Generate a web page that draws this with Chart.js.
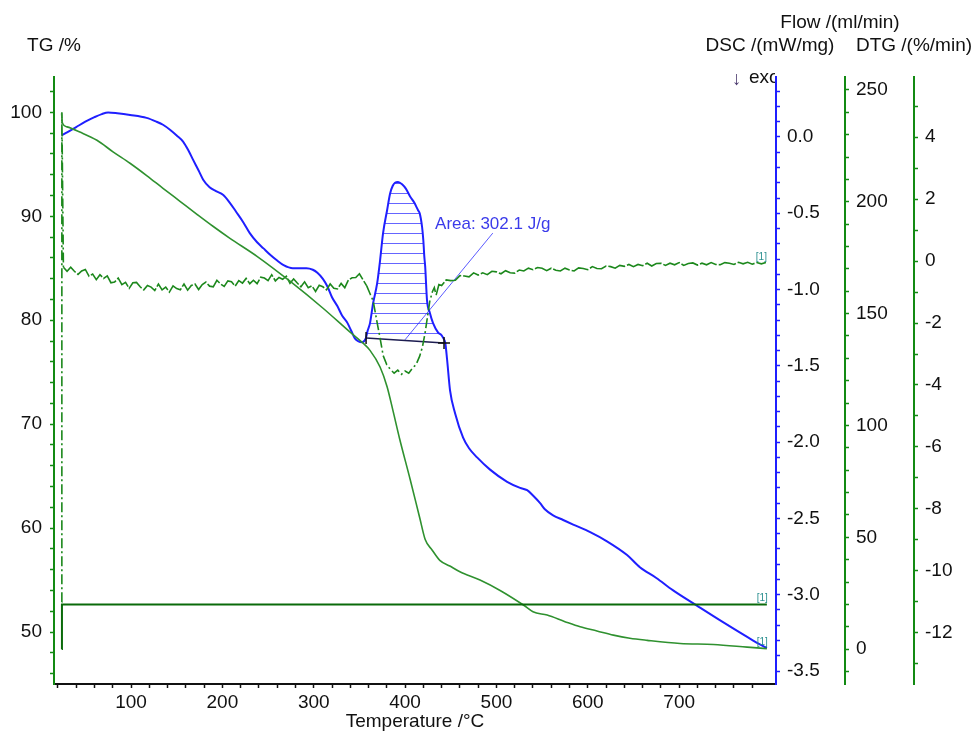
<!DOCTYPE html>
<html>
<head>
<meta charset="utf-8">
<script src="https://cdn.jsdelivr.net/npm/chart.js@4"></script>
<style>
  html, body { margin: 0; padding: 0; background: #fff; }
  #wrap { width: 979px; height: 733px; position: relative; }
</style>
</head>
<body>
<div id="wrap"><canvas id="thermoChart"></canvas></div>
<script>
// TG mass curve (%), temperatures in °C
const tgTemp = [24, 25, 30, 44, 62.7, 80.3, 98.9, 117.5, 135, 153.6, 172.2, 189.7, 208.3, 237.9, 274, 310.2, 339.8,
  354, 361.6, 372.6, 380.3, 387, 394, 405.5, 416, 422, 429.5, 438, 449, 460, 482, 504, 529.5, 540, 555.5,
  575, 591.6, 610, 628, 646, 665, 701, 737.5, 774.5, 796];
const tgValues = [99.9, 98.95, 98.6, 98.1, 97.31, 96.2, 95.1, 93.89, 92.69, 91.44, 90.19, 89.04, 87.88, 86.15, 83.75, 81.15, 78.85,
  77.79, 77.1, 75.5, 73.6, 71.2, 68.6, 64.7, 61.0, 58.9, 57.9, 56.9, 56.35, 55.8, 55.0, 54.0, 52.6, 51.95, 51.63,
  51.0, 50.5, 50.1, 49.7, 49.4, 49.2, 48.9, 48.8, 48.55, 48.4];

// DSC heat flow (mW/mg)
const dscTemp = [24, 30, 40, 50, 60, 68, 75, 85, 99, 117, 128, 135, 143, 150, 157, 163, 168, 174, 179, 186,
  193, 201, 208, 215, 223, 230, 238, 245, 252, 260, 267, 277, 292, 299, 304, 310, 315, 320, 326, 331,
  337, 341, 345, 349, 353, 357, 359, 361.6, 365, 369.4, 372.6, 375.9, 380.3, 383.6, 386.5, 389, 392.3, 396.7, 401, 405.5,
  410, 414.2, 416, 418.6, 420, 421, 422, 424, 427, 430.6, 436, 440, 442, 444, 446, 449.2, 454.7, 463.5, 470, 478.8,
  493, 511.7, 525.9, 533.6, 540, 547.8, 553, 562, 573, 584, 602.6, 621, 643, 657, 675, 693, 719, 748, 781, 796];
const dscValues = [0.01, 0.03, 0.065, 0.10, 0.13, 0.15, 0.16, 0.155, 0.144, 0.125, 0.10, 0.08, 0.046, 0.01, -0.03, -0.09, -0.15, -0.22, -0.28, -0.33,
  -0.355, -0.38, -0.43, -0.49, -0.56, -0.63, -0.69, -0.73, -0.77, -0.81, -0.84, -0.86, -0.86, -0.87, -0.89, -0.93, -0.98, -1.05, -1.11, -1.17,
  -1.22, -1.27, -1.32, -1.34, -1.345, -1.32, -1.27, -1.22, -1.09, -0.96, -0.81, -0.63, -0.48, -0.37, -0.32, -0.30, -0.295, -0.31, -0.34, -0.39,
  -0.43, -0.48, -0.50, -0.59, -0.68, -0.78, -0.85, -1.07, -1.15, -1.22, -1.28, -1.30, -1.32, -1.35, -1.46, -1.66, -1.81, -1.97, -2.04, -2.10,
  -2.18, -2.26, -2.30, -2.315, -2.35, -2.40, -2.44, -2.48, -2.51, -2.54, -2.59, -2.65, -2.74, -2.82, -2.89, -2.97, -3.07, -3.18, -3.30, -3.35];

// DTG mass-loss rate (%/min)
const dtgTemp = [24, 24.3,
  26, 30, 34, 38, 42, 46, 50, 54, 58, 62,
  66, 70, 74, 78, 82, 86, 90, 94, 98, 102,
  106, 110, 114, 118, 122, 126, 130, 134, 138, 142,
  146, 150, 154, 158, 162, 166, 170, 174, 178, 182,
  186, 190, 194, 198, 202, 206, 210, 214, 218, 222,
  226, 230, 234, 238, 242, 246, 250, 254, 258, 262,
  266, 270, 274, 278, 282, 286, 290, 294, 298, 302,
  306, 310, 314, 318, 322, 326, 330, 334, 338, 342,
  346, 350, 354,
  358, 362, 365, 369, 373, 376, 380, 384, 388, 392, 396, 400, 404, 408, 412, 416, 419, 422, 424, 427, 430, 432, 434,
  437, 440, 445, 450, 455, 460, 465, 470, 475, 480,
  485, 490, 495, 500, 505, 510, 515, 520, 525, 530,
  535, 540, 545, 550, 555, 560, 565, 570, 575, 580,
  585, 590, 595, 600, 605, 610, 615, 620, 625, 630,
  635, 640, 645, 650, 655, 660, 665, 670, 675, 680,
  685, 690, 695, 700, 705, 710, 715, 720, 725, 730,
  735, 740, 745, 750, 755, 760, 765, 770, 775, 780,
  785, 790, 795];
const dtgValues = [-11.0, 4.8,
  -0.20, -0.33, -0.20, -0.33, -0.43, -0.32, -0.27, -0.49, -0.42, -0.60,
  -0.44, -0.56, -0.48, -0.70, -0.68, -0.55, -0.76, -0.69, -0.88, -0.70,
  -0.69, -0.83, -0.93, -0.79, -0.84, -0.95, -0.74, -0.93, -0.84, -1.00,
  -0.80, -0.89, -0.93, -0.74, -0.94, -0.79, -0.74, -0.92, -0.76, -0.68,
  -0.81, -0.83, -0.62, -0.74, -0.82, -0.64, -0.67, -0.81, -0.63, -0.71,
  -0.56, -0.73, -0.62, -0.73, -0.52, -0.55, -0.63, -0.44, -0.64, -0.53,
  -0.59, -0.49, -0.72, -0.58, -0.71, -0.83, -0.67, -0.86, -0.80, -0.98,
  -0.78, -0.83, -0.93, -0.74, -0.88, -0.90, -0.72, -0.86, -0.61, -0.54,
  -0.53, -0.41, -0.61,
  -0.80, -1.08, -1.28, -1.92, -2.55, -3.05, -3.35, -3.50, -3.62, -3.52, -3.66, -3.55, -3.62, -3.46, -3.34, -3.07, -2.77, -2.30, -1.90, -1.30, -0.98, -0.86, -1.10,
  -0.76, -0.79, -0.61, -0.63, -0.62, -0.47, -0.48, -0.51, -0.38, -0.45,
  -0.38, -0.44, -0.33, -0.35, -0.41, -0.31, -0.38, -0.39, -0.29, -0.32,
  -0.23, -0.28, -0.21, -0.23, -0.31, -0.23, -0.30, -0.32, -0.23, -0.29,
  -0.32, -0.22, -0.24, -0.28, -0.18, -0.24, -0.25, -0.16, -0.18, -0.23,
  -0.14, -0.17, -0.11, -0.18, -0.11, -0.15, -0.07, -0.16, -0.08, -0.07,
  -0.14, -0.07, -0.12, -0.05, -0.14, -0.08, -0.06, -0.13, -0.07, -0.12,
  -0.05, -0.11, -0.12, -0.05, -0.07, -0.11, -0.04, -0.09, -0.04, -0.10,
  -0.05, -0.09, -0.05];
// DTG stretches drawn dash-dotted (°C): the start-up spike and the decomposition dip
const dtgDashed = [[0, 26], [356, 434]];

// purge gas flow (ml/min)
const flowTemp = [24, 24.4, 796];
const flowValues = [0, 20, 20];

// integration baseline of the exothermic peak and the label leader line (DSC units)
const baseTemp = [357.3, 442.6];
const baseDsc = [-1.317, -1.35];
const leaderTemp = [399.8, 496];
const leaderDsc = [-1.33, -0.63];
const areaText = 'Area: 302.1 J/g';
const areaAt = [432.8, -0.57];

// axis labels
const xLabels = [100, 200, 300, 400, 500, 600, 700];
const tgLabels = [50, 60, 70, 80, 90, 100];
const dscLabels = [0, -0.5, -1, -1.5, -2, -2.5, -3, -3.5];
const flowLabels = [0, 50, 100, 150, 200, 250];
const dtgLabels = [4, 2, 0, -2, -4, -6, -8, -10, -12];

const FONT = "'Liberation Sans', Arial, sans-serif";
Chart.defaults.font.family = FONT;
Chart.defaults.font.size = 19;
Chart.defaults.color = '#111';

const GREEN = '#138a13';
const BLUE = '#1f1fff';

const pts = (xs, ys) => xs.map((x, i) => ({ x, y: ys[i] }));

function steps(from, to, step) {
  const out = [];
  for (let i = 0; from + i * step <= to + 1e-9; i++) out.push(Math.round((from + i * step) * 1000) / 1000);
  return out;
}

// horizontal hatch lines every 10 px for the integrated peak
function hatch() {
  const c = document.createElement('canvas');
  c.width = 8; c.height = 10;
  const g = c.getContext('2d');
  g.fillStyle = 'rgba(35,35,255,0.7)';
  g.fillRect(0, 3, 8, 1);
  return g.createPattern(c, 'repeat');
}

function axis(o) {
  const isLabel = v => o.labels.some(l => Math.abs(l - v) < 1e-6);
  return {
    type: 'linear',
    position: o.position,
    weight: o.weight || 0,
    min: o.min,
    max: o.max,
    border: { color: o.color, width: 2 },
    grid: { drawOnChartArea: false, drawTicks: true, tickLength: 4, tickColor: o.color, tickWidth: 1.5 },
    ticks: {
      autoSkip: false, maxRotation: 0, padding: o.padding, color: '#111',
      callback: v => isLabel(v) ? o.fmt(v) : ''
    },
    title: o.title || { display: false },
    afterBuildTicks: s => { s.ticks = o.ticks.map(v => ({ value: v })); },
    afterFit: s => { if (o.width) s.width = o.width; if (o.height) s.height = o.height; }
  };
}

const inDashed = c => dtgDashed.some(([a, b]) => c.p0.parsed.x >= a && c.p1.parsed.x <= b);

const textLayer = {
  id: 'textLayer',
  afterDraw(chart) {
    const { ctx, scales } = chart;
    ctx.save();
    ctx.font = `19px ${FONT}`;
    ctx.fillStyle = '#111';
    ctx.textBaseline = 'alphabetic';
    ctx.textAlign = 'center';
    ctx.fillText('TG /%', 54, 51);
    ctx.fillText('Flow /(ml/min)', 840, 28);
    ctx.fillText('DSC /(mW/mg)', 770, 51);
    ctx.fillText('DTG /(%/min)', 914, 51);

    // "exo" marker, cut off by the DSC axis
    ctx.save();
    ctx.beginPath();
    ctx.rect(700, 60, 75, 40);
    ctx.clip();
    ctx.textAlign = 'left';
    ctx.fillStyle = '#4b3a6e';
    ctx.fillText('\u2193', 732, 85);
    ctx.fillStyle = '#111';
    ctx.fillText('exo', 749, 83);
    ctx.restore();

    // peak area label
    ctx.font = `17px ${FONT}`;
    ctx.fillStyle = '#3b3bea';
    ctx.textAlign = 'left';
    ctx.textBaseline = 'middle';
    ctx.fillText(areaText, scales.x.getPixelForValue(areaAt[0]), scales.yDSC.getPixelForValue(areaAt[1]));

    // curve tags at the right end
    ctx.font = `10px ${FONT}`;
    ctx.fillStyle = '#2a8f8f';
    ctx.textAlign = 'right';
    ctx.textBaseline = 'alphabetic';
    const tag = (t, v, ax) => ctx.fillText('[1]', scales.x.getPixelForValue(t) + 1, scales[ax].getPixelForValue(v) - 3);
    tag(dtgTemp[dtgTemp.length - 1], dtgValues[dtgValues.length - 1], 'yDTG');
    tag(flowTemp[flowTemp.length - 1], flowValues[flowValues.length - 1], 'yFlow');
    tag(dscTemp[dscTemp.length - 1], dscValues[dscValues.length - 1], 'yDSC');
    ctx.restore();
  }
};

new Chart(document.getElementById('thermoChart'), {
  type: 'line',
  data: {
    datasets: [
      { label: 'Flow', data: pts(flowTemp, flowValues), yAxisID: 'yFlow',
        borderColor: '#0a6a0a', borderWidth: 2, pointRadius: 0, tension: 0 },
      { label: 'TG', data: pts(tgTemp, tgValues), yAxisID: 'yTG',
        borderColor: '#2f912f', borderWidth: 1.6, pointRadius: 0, cubicInterpolationMode: 'monotone' },
      { label: 'DTG', data: pts(dtgTemp, dtgValues), yAxisID: 'yDTG',
        borderColor: '#1c881c', borderWidth: 1.6, pointRadius: 0, tension: 0,
        segment: { borderDash: c => inDashed(c) ? [10, 3, 2, 3] : [18, 2] } },
      { label: 'Baseline', data: pts(baseTemp, baseDsc), yAxisID: 'yDSC',
        borderColor: '#1c1c50', borderWidth: 1.4, pointRadius: 6, pointStyle: ['line', 'cross'],
        rotation: [90, 0], pointBorderColor: '#111', pointBorderWidth: 1.5, tension: 0 },
      { label: 'DSC', data: pts(dscTemp, dscValues), yAxisID: 'yDSC',
        borderColor: BLUE, borderWidth: 2, pointRadius: 0, cubicInterpolationMode: 'monotone',
        fill: 3, backgroundColor: hatch() },
      { label: 'Leader', data: pts(leaderTemp, leaderDsc), yAxisID: 'yDSC',
        borderColor: '#5a5aff', borderWidth: 1, pointRadius: 0, tension: 0 }
    ]
  },
  options: {
    responsive: true,
    maintainAspectRatio: false,
    animation: false,
    layout: { padding: { top: 77, left: 0, right: 0, bottom: 0 } },
    plugins: { legend: { display: false }, tooltip: { enabled: false } },
    scales: {
      x: axis({ position: 'bottom', color: '#111', min: 15.7, max: 806, ticks: steps(20, 780, 20),
        labels: xLabels, fmt: v => String(v), padding: 3, height: 49,
        title: { display: true, text: 'Temperature /\u00B0C', color: '#111', padding: { top: 0, bottom: 0 } } }),
      yTG: axis({ position: 'left', color: GREEN, min: 45, max: 103.4, ticks: steps(46, 102, 2),
        labels: tgLabels, fmt: v => String(v), padding: 8, width: 54 }),
      yDSC: axis({ position: 'right', weight: 0, color: BLUE, min: -3.585, max: 0.393, ticks: steps(-3.5, 0.3, 0.1),
        labels: dscLabels, fmt: v => v.toFixed(1), padding: 7, width: 69 }),
      yFlow: axis({ position: 'right', weight: 1, color: GREEN, min: -15.6, max: 255.8, ticks: steps(-10, 250, 10),
        labels: flowLabels, fmt: v => String(v), padding: 7, width: 69 }),
      yDTG: axis({ position: 'right', weight: 2, color: GREEN, min: -13.65, max: 5.94, ticks: steps(-13, 5, 1),
        labels: dtgLabels, fmt: v => String(v), padding: 7, width: 65 })
    }
  },
  plugins: [textLayer]
});
</script>
</body>
</html>
